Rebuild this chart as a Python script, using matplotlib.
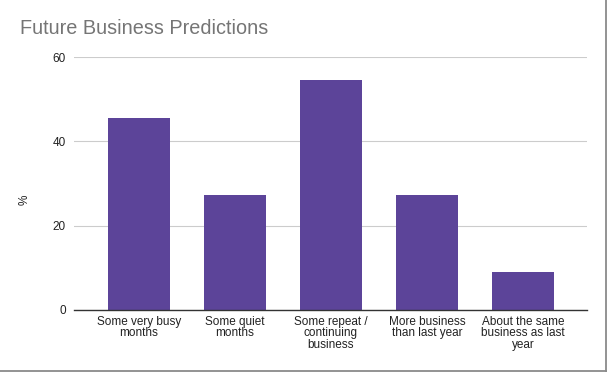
import matplotlib
matplotlib.use("Agg")
import matplotlib.pyplot as plt
from matplotlib.lines import Line2D

categories = ["Some very busy\nmonths", "Some quiet\nmonths", "Some repeat /\ncontinuing\nbusiness",
              "More business\nthan last year", "About the same\nbusiness as last\nyear"]
values = [45.45, 27.27, 54.55, 27.27, 9.09]
yticks = [0, 20, 40, 60]

plt.rcParams['font.family'] = ['Liberation Sans', 'DejaVu Sans']
fig = plt.figure(figsize=(6.07, 3.72), dpi=100)
ax = fig.add_axes([74/607, 1-310/372, (587-74)/607, (310-57)/372])
x = list(range(len(categories)))
ax.bar(x, values, width=0.645, color='#5c4499', zorder=2)
ax.set_xlim(-0.677, 4.667)
ax.set_ylim(0, 60)
ax.set_yticks(yticks)
ax.set_yticklabels([str(t) for t in yticks], fontsize=8.5, color='#222222')
ax.set_xticks(x)
ax.set_xticklabels(categories, fontsize=8.5, color='#222222', linespacing=0.95)
ax.tick_params(axis='both', length=0, pad=6)
ax.tick_params(axis='x', pad=4)
ax.grid(axis='y', color='#cccccc', linewidth=0.8, zorder=0)
for s in ['top', 'right', 'left']:
    ax.spines[s].set_visible(False)
ax.spines['bottom'].set_color('#333333')
ax.spines['bottom'].set_linewidth(1.0)
ax.spines['bottom'].set_zorder(3)
fig.text(20/607, 1-28/372, "Future Business Predictions", fontsize=14.3, color='#757575', va='center', ha='left')
fig.text(25/607, 1-200/372, "%", fontsize=8.5, rotation=90, va='center', ha='center', color='#222222')
fig.lines.append(Line2D([605.5/607, 605.5/607], [0, 1], transform=fig.transFigure, color='#8a8a8a', linewidth=1.3))
fig.lines.append(Line2D([0, 1], [1-370.5/372, 1-370.5/372], transform=fig.transFigure, color='#8a8a8a', linewidth=1.3))
fig.savefig("out.png", dpi=100)
